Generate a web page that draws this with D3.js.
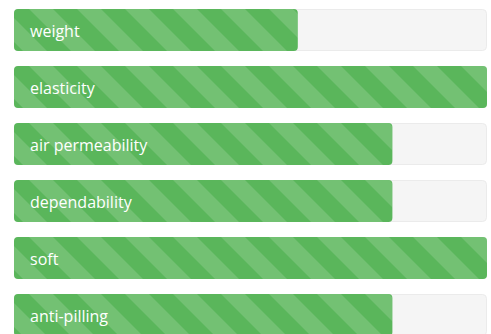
<!DOCTYPE html>
<html>
<head>
<meta charset="utf-8">
<script src="https://cdn.jsdelivr.net/npm/d3@7"></script>
<style>
  html, body { margin: 0; padding: 0; background: #ffffff; overflow: hidden; }
  svg { display: block; }
</style>
</head>
<body>
<svg id="chart" width="491" height="334"></svg>
<script>
// Fabric properties, each rated as a percentage
const categories = ["weight", "elasticity", "air permeability", "dependability", "soft", "anti-pilling"];
const values = [60, 100, 80, 80, 100, 80];

const chartWidth = 491, chartHeight = 334;
const leftEdge = 14, trackWidth = 473;
const rowStep = 57, rowGap = 15, topEdge = 9;

const svg = d3.select("#chart");

const x = d3.scaleLinear().domain([0, 100]).range([0, trackWidth]);
const y = d3.scaleBand()
  .domain(categories)
  .range([topEdge, topEdge + rowStep * (categories.length - rowGap / rowStep)])
  .paddingInner(rowGap / rowStep)
  .paddingOuter(0);

// Diagonal stripe pattern laid over the filled part of each bar
const defs = svg.append("defs");
const P = 48;
const pat = defs.append("pattern")
  .attr("id", "stripes")
  .attr("patternUnits", "userSpaceOnUse")
  .attr("width", P).attr("height", P)
  .attr("patternTransform", "translate(15,0)");
pat.append("polygon")
  .attr("points", `0,0 ${P/2},0 ${P},${P/2} ${P},${P}`)
  .attr("fill", "rgba(255,255,255,0.15)");
pat.append("polygon")
  .attr("points", `0,${P/2} ${P/2},${P} 0,${P}`)
  .attr("fill", "rgba(255,255,255,0.15)");

const rows = svg.selectAll("g.row")
  .data(categories.map((c, i) => ({ name: c, value: values[i] })))
  .join("g")
  .attr("class", "row")
  .attr("transform", d => `translate(${leftEdge},${y(d.name)})`);

const bh = y.bandwidth();

// Track
rows.append("rect")
  .attr("x", 0.5).attr("y", 0.5)
  .attr("width", x(100) - 1).attr("height", bh - 1)
  .attr("rx", 4)
  .attr("fill", "#f5f5f5")
  .attr("stroke", "#ebebeb");

// Filled bar
rows.append("rect")
  .attr("x", 0).attr("y", 0)
  .attr("width", d => x(d.value)).attr("height", bh)
  .attr("rx", 4)
  .attr("fill", "#5ab65b");

rows.append("rect")
  .attr("x", 0).attr("y", 0)
  .attr("width", d => x(d.value)).attr("height", bh)
  .attr("rx", 4)
  .attr("fill", "url(#stripes)");

// Label inside each bar
rows.append("text")
  .attr("x", 16)
  .attr("y", bh / 2 + 1)
  .attr("dy", "0.35em")
  .attr("fill", "#ffffff")
  .style("font-family", "'Open Sans', 'Noto Sans', sans-serif")
  .style("font-size", "16px")
  .text(d => d.name);
</script>
</body>
</html>
